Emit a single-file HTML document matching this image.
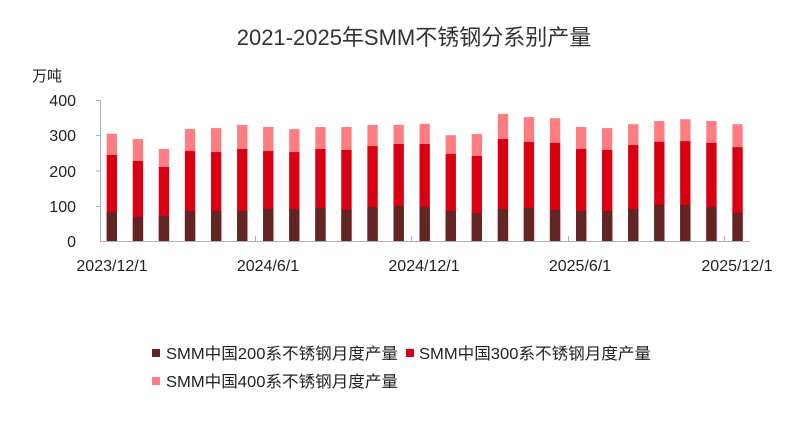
<!DOCTYPE html>
<html><head><meta charset="utf-8"><style>
html,body{margin:0;padding:0;background:#fff;}
svg{display:block;font-family:"Liberation Sans","Noto Sans CJK SC",sans-serif;}
</style></head><body>
<svg width="793" height="425" viewBox="0 0 793 425" xmlns="http://www.w3.org/2000/svg">
<text x="414" y="45" text-anchor="middle" font-size="22" fill="#333">2021-2025年SMM不锈钢分系别产量</text>
<text x="32" y="81" font-size="15" fill="#222">万吨</text>
<g font-size="16" fill="#222" text-anchor="end">
<text x="76" y="106">400</text>
<text x="76" y="141">300</text>
<text x="76" y="177">200</text>
<text x="76" y="212">100</text>
<text x="76" y="247">0</text>
</g>
<g stroke="#b0b0b0" stroke-width="1" fill="none">
<path d="M100.5 100 V241.5 H750"/>
<path d="M96 100.5H100.5M96 135.5H100.5M96 171H100.5M96 206.5H100.5"/>
<path d="M255.5 241V236M411.5 241V236M568.5 241V236M724.5 241V236"/>
</g>
<g fill="#ff7c80">
<rect x="106.7" y="133.7" width="10.3" height="107.3"/>
<rect x="132.8" y="139.0" width="10.3" height="102.0"/>
<rect x="158.8" y="149.0" width="10.3" height="92.0"/>
<rect x="184.9" y="129.1" width="10.3" height="111.9"/>
<rect x="211.0" y="128.1" width="10.3" height="112.9"/>
<rect x="237.1" y="124.9" width="10.3" height="116.1"/>
<rect x="263.1" y="127.0" width="10.3" height="114.0"/>
<rect x="289.2" y="129.1" width="10.3" height="111.9"/>
<rect x="315.3" y="127.0" width="10.3" height="114.0"/>
<rect x="341.3" y="127.0" width="10.3" height="114.0"/>
<rect x="367.4" y="124.9" width="10.3" height="116.1"/>
<rect x="393.5" y="124.9" width="10.3" height="116.1"/>
<rect x="419.5" y="123.8" width="10.3" height="117.2"/>
<rect x="445.6" y="135.2" width="10.3" height="105.8"/>
<rect x="471.7" y="134.1" width="10.3" height="106.9"/>
<rect x="497.8" y="113.9" width="10.3" height="127.1"/>
<rect x="523.8" y="117.1" width="10.3" height="123.9"/>
<rect x="549.9" y="118.2" width="10.3" height="122.8"/>
<rect x="576.0" y="127.0" width="10.3" height="114.0"/>
<rect x="602.0" y="128.1" width="10.3" height="112.9"/>
<rect x="628.1" y="124.2" width="10.3" height="116.8"/>
<rect x="654.2" y="121.0" width="10.3" height="120.0"/>
<rect x="680.2" y="119.2" width="10.3" height="121.8"/>
<rect x="706.3" y="121.0" width="10.3" height="120.0"/>
<rect x="732.4" y="124.2" width="10.3" height="116.8"/>
</g>
<g fill="#d90012">
<rect x="106.7" y="155.0" width="10.3" height="86.0"/>
<rect x="132.8" y="161.0" width="10.3" height="80.0"/>
<rect x="158.8" y="167.0" width="10.3" height="74.0"/>
<rect x="184.9" y="151.1" width="10.3" height="89.9"/>
<rect x="211.0" y="152.1" width="10.3" height="88.9"/>
<rect x="237.1" y="149.0" width="10.3" height="92.0"/>
<rect x="263.1" y="151.1" width="10.3" height="89.9"/>
<rect x="289.2" y="152.1" width="10.3" height="88.9"/>
<rect x="315.3" y="149.0" width="10.3" height="92.0"/>
<rect x="341.3" y="150.0" width="10.3" height="91.0"/>
<rect x="367.4" y="146.1" width="10.3" height="94.9"/>
<rect x="393.5" y="144.0" width="10.3" height="97.0"/>
<rect x="419.5" y="144.0" width="10.3" height="97.0"/>
<rect x="445.6" y="153.9" width="10.3" height="87.1"/>
<rect x="471.7" y="156.0" width="10.3" height="85.0"/>
<rect x="497.8" y="139.0" width="10.3" height="102.0"/>
<rect x="523.8" y="141.9" width="10.3" height="99.1"/>
<rect x="549.9" y="142.9" width="10.3" height="98.1"/>
<rect x="576.0" y="149.0" width="10.3" height="92.0"/>
<rect x="602.0" y="150.0" width="10.3" height="91.0"/>
<rect x="628.1" y="145.1" width="10.3" height="95.9"/>
<rect x="654.2" y="141.9" width="10.3" height="99.1"/>
<rect x="680.2" y="141.2" width="10.3" height="99.8"/>
<rect x="706.3" y="142.9" width="10.3" height="98.1"/>
<rect x="732.4" y="147.2" width="10.3" height="93.8"/>
</g>
<g fill="#632523">
<rect x="106.7" y="212.0" width="10.3" height="29.0"/>
<rect x="132.8" y="216.9" width="10.3" height="24.1"/>
<rect x="158.8" y="215.9" width="10.3" height="25.1"/>
<rect x="184.9" y="210.9" width="10.3" height="30.1"/>
<rect x="211.0" y="210.9" width="10.3" height="30.1"/>
<rect x="237.1" y="210.9" width="10.3" height="30.1"/>
<rect x="263.1" y="209.1" width="10.3" height="31.9"/>
<rect x="289.2" y="209.1" width="10.3" height="31.9"/>
<rect x="315.3" y="208.1" width="10.3" height="32.9"/>
<rect x="341.3" y="209.8" width="10.3" height="31.2"/>
<rect x="367.4" y="207.0" width="10.3" height="34.0"/>
<rect x="393.5" y="206.0" width="10.3" height="35.0"/>
<rect x="419.5" y="207.0" width="10.3" height="34.0"/>
<rect x="445.6" y="210.9" width="10.3" height="30.1"/>
<rect x="471.7" y="213.0" width="10.3" height="28.0"/>
<rect x="497.8" y="209.1" width="10.3" height="31.9"/>
<rect x="523.8" y="208.1" width="10.3" height="32.9"/>
<rect x="549.9" y="209.8" width="10.3" height="31.2"/>
<rect x="576.0" y="210.9" width="10.3" height="30.1"/>
<rect x="602.0" y="210.9" width="10.3" height="30.1"/>
<rect x="628.1" y="209.1" width="10.3" height="31.9"/>
<rect x="654.2" y="204.9" width="10.3" height="36.1"/>
<rect x="680.2" y="204.9" width="10.3" height="36.1"/>
<rect x="706.3" y="207.0" width="10.3" height="34.0"/>
<rect x="732.4" y="213.0" width="10.3" height="28.0"/>
</g>
<g font-size="16" fill="#222" text-anchor="middle">
<text x="112" y="271">2023/12/1</text>
<text x="268" y="271">2024/6/1</text>
<text x="424" y="271">2024/12/1</text>
<text x="580" y="271">2025/6/1</text>
<text x="737" y="271">2025/12/1</text>
</g>
<g font-size="16" fill="#222">
<rect x="152" y="349" width="8" height="8" fill="#632523"/>
<text x="166" y="359" textLength="232" lengthAdjust="spacingAndGlyphs">SMM中国200系不锈钢月度产量</text>
<rect x="406" y="349" width="8" height="8" fill="#d90012"/>
<text x="419" y="359" textLength="232" lengthAdjust="spacingAndGlyphs">SMM中国300系不锈钢月度产量</text>
<rect x="152" y="377" width="8" height="8" fill="#ff7c80"/>
<text x="166" y="387" textLength="232" lengthAdjust="spacingAndGlyphs">SMM中国400系不锈钢月度产量</text>
</g>
</svg>
</body></html>
